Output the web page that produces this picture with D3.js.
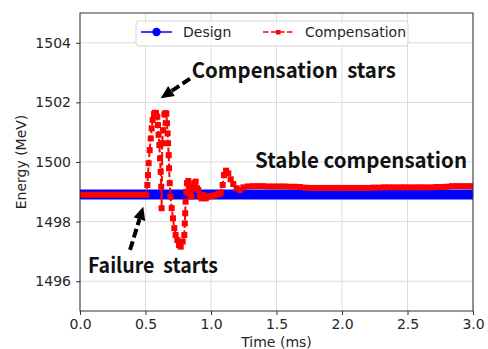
<!DOCTYPE html>
<html>
<head>
<meta charset="utf-8">
<script src="https://cdn.jsdelivr.net/npm/d3@7"></script>
<style>
  body { margin: 0; background: #fff; }
  text { font-family: "DejaVu Sans", sans-serif; fill: #262626; }
  .note { font-family: "Noto Sans CJK KR", "Noto Sans", sans-serif; font-weight: 700; white-space: pre; fill: #111; }
</style>
</head>
<body>
<script>
// tick values
var xTicks = [0, 0.5, 1.0, 1.5, 2.0, 2.5, 3.0];
var yTicks = [1496, 1498, 1500, 1502, 1504];

// design energy (flat)
var designTime = [0, 3.0];
var designEnergy = [1498.91, 1498.91];

// compensation curve
var compTime = [
  0.00, 0.04, 0.08, 0.12, 0.16, 0.20, 0.24, 0.28, 0.32, 0.36, 0.40, 0.44, 0.48, 0.505,
  0.514, 0.519, 0.524, 0.532, 0.540, 0.547, 0.555, 0.565, 0.572, 0.580, 0.590, 0.595,
  0.600, 0.606, 0.611, 0.616, 0.620, 0.623, 0.628, 0.634, 0.644, 0.652, 0.659, 0.664,
  0.669, 0.672, 0.677, 0.680, 0.685, 0.690, 0.700, 0.710, 0.720, 0.730, 0.743, 0.756,
  0.769, 0.784, 0.796, 0.800, 0.803, 0.806, 0.811, 0.817, 0.827, 0.834, 0.842, 0.851,
  0.862, 0.872, 0.883, 0.893, 0.903, 0.914, 0.929, 0.944, 0.960, 0.980, 1.005, 1.025,
  1.043, 1.060, 1.074, 1.089, 1.099, 1.115, 1.132, 1.150, 1.170, 1.196, 1.221, 1.247,
  1.28, 1.32, 1.36, 1.40, 1.44, 1.48, 1.52, 1.56, 1.60, 1.64, 1.68, 1.72, 1.76, 1.80,
  1.84, 1.88, 1.92, 1.96, 2.00, 2.04, 2.08, 2.12, 2.16, 2.20, 2.24, 2.28, 2.32, 2.36,
  2.40, 2.44, 2.48, 2.52, 2.56, 2.60, 2.64, 2.68, 2.72, 2.76, 2.80, 2.84, 2.88, 2.92,
  2.96, 3.00
];
var compEnergy = [
  1498.90, 1498.90, 1498.90, 1498.90, 1498.90, 1498.90, 1498.90, 1498.90, 1498.90, 1498.90, 1498.90, 1498.90, 1498.90, 1498.90,
  1499.23, 1499.56, 1499.96, 1500.40, 1500.79, 1501.13, 1501.41, 1501.61, 1501.65, 1501.64, 1501.52, 1501.24,
  1500.91, 1500.57, 1500.12, 1499.67, 1499.17, 1498.45, 1500.63, 1501.07, 1501.60, 1501.64, 1501.62, 1501.30,
  1500.96, 1500.63, 1500.23, 1499.79, 1499.29, 1498.84, 1498.45, 1498.11, 1497.78, 1497.55, 1497.38, 1497.21,
  1497.16, 1497.33, 1497.55, 1497.94, 1498.28, 1498.67, 1499.00, 1499.29, 1499.36, 1499.17, 1498.89, 1498.84,
  1499.12, 1499.29, 1499.34, 1499.12, 1499.06, 1498.84, 1498.78, 1498.89, 1498.78, 1498.84, 1498.86, 1498.88,
  1498.90, 1498.93, 1498.97, 1499.23, 1499.56, 1499.71, 1499.62, 1499.42, 1499.26, 1499.12, 1499.06, 1499.15,
  1499.18, 1499.19, 1499.19, 1499.19, 1499.18, 1499.18, 1499.18, 1499.18, 1499.17, 1499.17, 1499.16, 1499.14, 1499.13, 1499.13,
  1499.13, 1499.13, 1499.13, 1499.13, 1499.13, 1499.13, 1499.13, 1499.13, 1499.13, 1499.13, 1499.14, 1499.14, 1499.15, 1499.15,
  1499.15, 1499.15, 1499.15, 1499.15, 1499.15, 1499.15, 1499.15, 1499.15, 1499.16, 1499.16, 1499.17, 1499.19, 1499.19, 1499.19,
  1499.19, 1499.19
];

var W = 488, H = 349;
var m = {left: 80, top: 13, right: 15, bottom: 38};
var w = W - m.left - m.right, h = H - m.top - m.bottom;

var x = d3.scaleLinear().domain([0, 3]).range([0, w]);
var y = d3.scaleLinear().domain([1495, 1505]).range([h, 0]);

var svg = d3.select("body").append("svg")
  .attr("width", W).attr("height", H);

svg.append("defs").append("clipPath").attr("id", "clip")
  .append("rect").attr("width", w).attr("height", h);

var g = svg.append("g").attr("transform", "translate(" + m.left + "," + m.top + ")");

// grid
g.append("g").selectAll("line").data(xTicks).join("line")
  .attr("x1", d => x(d)).attr("x2", d => x(d)).attr("y1", 0).attr("y2", h)
  .attr("stroke", "#dcdcdc").attr("stroke-width", 1);
g.append("g").selectAll("line").data(yTicks).join("line")
  .attr("x1", 0).attr("x2", w).attr("y1", d => y(d)).attr("y2", d => y(d))
  .attr("stroke", "#dcdcdc").attr("stroke-width", 1);

// axes
var xAxis = g.append("g").attr("transform", "translate(0," + h + ")")
  .call(d3.axisBottom(x).tickValues(xTicks).tickFormat(d3.format(".1f")).tickSize(4).tickPadding(4));
var yAxis = g.append("g")
  .call(d3.axisLeft(y).tickValues(yTicks).tickFormat(d3.format("d")).tickSize(4).tickPadding(5));
[xAxis, yAxis].forEach(function (a) {
  a.select(".domain").remove();
  a.selectAll("line").attr("stroke", "#333");
  a.selectAll("text").attr("font-size", 14).attr("fill", "#262626")
    .style("font-family", "DejaVu Sans");
});

var plot = g.append("g").attr("clip-path", "url(#clip)");

// design: dense circle markers merge into a solid band
var design = designTime.map((t, i) => [t, designEnergy[i]]);
plot.append("path").datum(design)
  .attr("d", d3.line().x(d => x(d[0])).y(d => y(d[1])))
  .attr("fill", "none").attr("stroke", "#0000ff").attr("stroke-width", 10);

// compensation
var comp = compTime.map((t, i) => [t, compEnergy[i]]);
plot.append("path").datum(comp)
  .attr("d", d3.line().x(d => x(d[0])).y(d => y(d[1])))
  .attr("fill", "none").attr("stroke", "#ff0000").attr("stroke-width", 2)
  .attr("stroke-dasharray", "5.5,2.5");
var ms = 6;
plot.append("g").selectAll("rect").data(comp).join("rect")
  .attr("x", d => x(d[0]) - ms / 2).attr("y", d => y(d[1]) - ms / 2)
  .attr("width", ms).attr("height", ms).attr("fill", "#ff0000");

// frame
g.append("rect").attr("width", w).attr("height", h)
  .attr("fill", "none").attr("stroke", "#333").attr("stroke-width", 1);

// axis labels
svg.append("text").attr("x", m.left + w / 2).attr("y", 347)
  .attr("text-anchor", "middle").attr("font-size", 14).text("Time (ms)");
svg.append("text").attr("transform", "translate(26," + (m.top + h / 2) + ") rotate(-90)")
  .attr("text-anchor", "middle").attr("font-size", 14).text("Energy (MeV)");

// legend
var lg = g.append("g").attr("transform", "translate(56,8)");
lg.append("rect").attr("width", 272).attr("height", 25).attr("rx", 3)
  .attr("fill", "#fff").attr("fill-opacity", 0.85).attr("stroke", "#d5d5d5");
lg.append("line").attr("x1", 5).attr("x2", 36).attr("y1", 11).attr("y2", 11)
  .attr("stroke", "#0000ff").attr("stroke-width", 1.5);
lg.append("circle").attr("cx", 20.5).attr("cy", 11).attr("r", 4.2).attr("fill", "#0000ff");
lg.append("text").attr("x", 47).attr("y", 16).attr("font-size", 14).text("Design");
lg.append("line").attr("x1", 127).attr("x2", 158).attr("y1", 11).attr("y2", 11)
  .attr("stroke", "#ff0000").attr("stroke-width", 1.5).attr("stroke-dasharray", "5.5,2.5");
lg.append("rect").attr("x", 140).attr("y", 9).attr("width", 4.5).attr("height", 4.5).attr("fill", "#ff0000");
lg.append("text").attr("x", 169).attr("y", 16).attr("font-size", 14).text("Compensation");

// annotations
var notes = [
  {text: "Compensation  stars", t: 0.853, e: 1502.81, len: 204},
  {text: "Stable compensation", t: 1.336, e: 1499.79, len: 212},
  {text: "Failure  starts", t: 0.061, e: 1496.27, len: 130}
];
g.selectAll("text.note").data(notes).join("text").attr("class", "note")
  .attr("x", d => x(d.t)).attr("y", d => y(d.e))
  .attr("font-size", 21)
  .attr("textLength", d => d.len).attr("lengthAdjust", "spacingAndGlyphs")
  .text(d => d.text);

var arrows = [
  {t0: 0.84, e0: 1502.80, t1: 0.616, e1: 1502.14},
  {t0: 0.382, e0: 1497.05, t1: 0.483, e1: 1498.50}
];
arrows.forEach(function (a) {
  var x0 = x(a.t0), y0 = y(a.e0), x1 = x(a.t1), y1 = y(a.e1);
  var dx = x1 - x0, dy = y1 - y0, L = Math.sqrt(dx * dx + dy * dy);
  var ux = dx / L, uy = dy / L, hl = 13, hw = 6;
  var bx = x1 - ux * hl, by = y1 - uy * hl;
  g.append("line").attr("x1", x0).attr("y1", y0).attr("x2", bx).attr("y2", by)
    .attr("stroke", "#000").attr("stroke-width", 4).attr("stroke-dasharray", "9,4");
  g.append("path")
    .attr("d", "M" + x1 + "," + y1 + "L" + (bx - uy * hw) + "," + (by + ux * hw) +
      "L" + (bx + uy * hw) + "," + (by - ux * hw) + "Z")
    .attr("fill", "#000");
});
</script>
</body>
</html>
